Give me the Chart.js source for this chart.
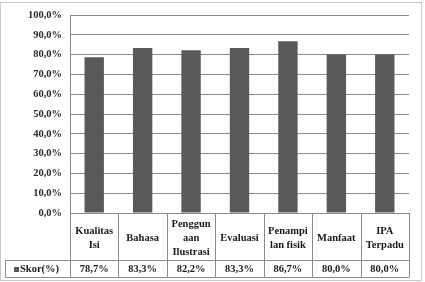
<!DOCTYPE html>
<html><head><meta charset="utf-8">
<script src="https://cdn.jsdelivr.net/npm/chart.js@4/dist/chart.umd.min.js"></script>
<style>html,body{margin:0;padding:0;background:#fff}#wrap{width:425px;height:282px;position:relative}</style>
</head><body><div id="wrap"><canvas id="c" width="425" height="282"></canvas></div>
<script>
const categories = [["Kualitas","Isi"],["Bahasa"],["Penggun","aan","Ilustrasi"],["Evaluasi"],["Penampi","lan fisik"],["Manfaat"],["IPA","Terpadu"]];
const seriesName = "Skor(%)";
const scores = [78.7, 83.3, 82.2, 83.3, 86.7, 80.0, 80.0];
const yTicks = [0,10,20,30,40,50,60,70,80,90,100];

const fmt = v => v.toFixed(1).replace('.', ',') + '%';
const FAMILY = '"Liberation Serif", "Times New Roman", serif';
const FONT = 'bold 10.5px ' + FAMILY;

const tablePlugin = {
  id: 'tbl',
  afterDraw(chart) {
    const ctx = chart.ctx, xs = chart.scales.x, area = chart.chartArea;
    const n = categories.length;
    const left = area.left, right = area.right;
    const step = (right - left) / n;
    const top = area.bottom, mid = 260.5, bot = 277.5, legL = 5.5;
    ctx.save();
    ctx.strokeStyle = '#c8c8c8'; ctx.lineWidth = 1;
    ctx.strokeRect(0.5, 2.5, 421, 278);
    ctx.strokeStyle = '#8a8a8a';
    ctx.beginPath();
    ctx.moveTo(legL, mid); ctx.lineTo(right, mid);
    ctx.moveTo(legL, bot); ctx.lineTo(right, bot);
    ctx.moveTo(legL, mid); ctx.lineTo(legL, bot);
    for (let i = 0; i <= n; i++) {
      const x = Math.round(left + i * step) + 0.5;
      ctx.moveTo(x, top); ctx.lineTo(x, bot);
    }
    ctx.stroke();
    ctx.fillStyle = '#1a1a1a'; ctx.font = FONT;
    ctx.textAlign = 'center'; ctx.textBaseline = 'middle';
    categories.forEach((lines, i) => {
      const cx = xs.getPixelForValue(i);
      const lh = 14, cy = 238;
      const y0 = cy - (lines.length - 1) * lh / 2;
      lines.forEach((t, j) => ctx.fillText(t, cx, y0 + j * lh));
      ctx.fillText(fmt(scores[i]), cx, 269.5);
    });
    ctx.fillStyle = '#595959';
    ctx.fillRect(14, 267, 5, 5);
    ctx.fillStyle = '#1a1a1a'; ctx.textAlign = 'left';
    ctx.fillText(seriesName, 20, 269.5);
    ctx.restore();
  }
};

new Chart(document.getElementById('c'), {
  type: 'bar',
  data: { labels: categories.map(l => l.join(' ')), datasets: [{ label: seriesName, data: scores, backgroundColor: '#595959', categoryPercentage: 1, barPercentage: 0.4 }] },
  options: {
    responsive: false, animation: false, devicePixelRatio: 1,
    layout: { padding: { left: 0, right: 16, top: 15, bottom: 69 } },
    plugins: { legend: { display: false }, tooltip: { enabled: false } },
    scales: {
      x: { display: false, grid: { display: false } },
      y: {
        min: 0, max: 100,
        afterFit(s) { s.width = 70; },
        afterBuildTicks(s) { s.ticks = yTicks.map(v => ({ value: v })); },
        ticks: { callback: v => fmt(v), color: '#2a2a2a', font: { family: FAMILY, size: 10.5, weight: 'bold' }, padding: 8 },
        grid: { color: '#8a8a8a', drawTicks: false },
        border: { display: true, color: '#8a8a8a' }
      }
    }
  },
  plugins: [tablePlugin]
});
</script></body></html>
